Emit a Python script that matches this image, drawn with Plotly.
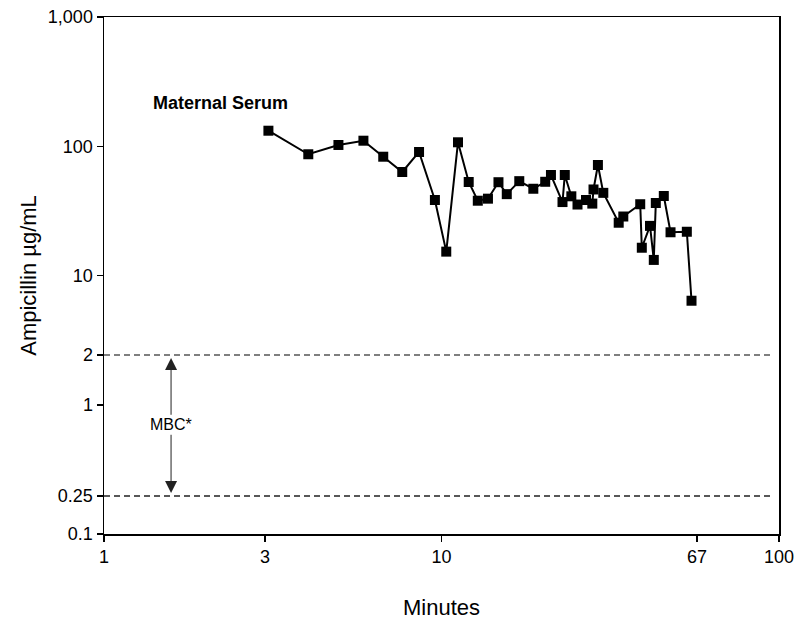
import math
import plotly.graph_objects as go

# Data (minutes, ampicillin ug/mL)
minutes = [3.07, 4.03, 4.95, 5.87, 6.72, 7.65, 8.58, 9.56, 10.33, 11.19,
           12.04, 12.81, 13.73, 14.75, 15.61, 17.00, 18.71, 20.29, 21.10, 22.83,
           23.19, 24.25, 25.29, 26.80, 27.98, 28.21, 29.07, 30.16, 33.50, 34.57,
           38.80, 39.22, 41.48, 42.56, 43.15, 45.57, 47.71, 53.32, 55.05]
serum = [131.9, 86.7, 102.3, 110.4, 83.0, 63.2, 90.3, 38.4, 15.3, 107.3,
         52.9, 37.9, 39.3, 52.7, 42.6, 53.7, 46.9, 53.1, 59.9, 37.0,
         59.9, 41.0, 35.4, 38.4, 36.0, 46.3, 71.6, 43.6, 25.6, 28.6,
         35.6, 16.4, 24.2, 13.2, 36.4, 41.2, 21.6, 21.8, 6.38]

# Axis ticks as drawn in the reference (position on the axis, label)
x_tick_pos = [1, 3, 10, 57.2, 100]
x_tick_text = ["1", "3", "10", "67", "100"]
y_tick_pos = [0.1, 0.197, 1, 2.43, 10, 100, 1000]
y_tick_text = ["0.1", "0.25", "1", "2", "10", "100", "1,000"]

# MBC band limits (drawn at the "2" and "0.25" tick positions)
mbc_upper = 2.43
mbc_lower = 0.197
mbc_x = 1.58
mbc_label_y = 0.70

label_x = 1.38
label_y = 216

FONT = "Liberation Sans, Arial, Helvetica, sans-serif"
L = math.log10  # annotations on log axes are positioned in log10 units

fig = go.Figure()

fig.add_trace(go.Scatter(
    x=minutes, y=serum, mode="lines+markers",
    line=dict(color="black", width=2),
    marker=dict(symbol="square", size=10, color="black"),
    showlegend=False,
))

# Dashed MBC lines
for yv, col in [(mbc_upper, "#555555"), (mbc_lower, "#222222")]:
    fig.add_trace(go.Scatter(
        x=[1, 96.5], y=[yv, yv], mode="lines",
        line=dict(color=col, width=1.5, dash="6px,4px"),
        showlegend=False, hoverinfo="skip",
    ))

# MBC double arrow with label
fig.add_annotation(x=L(mbc_x), y=L(mbc_upper), ax=L(mbc_x), ay=L(mbc_label_y),
                   xref="x", yref="y", axref="x", ayref="y",
                   text="MBC*", showarrow=True, arrowhead=2, arrowsize=2.4,
                   arrowwidth=1, arrowcolor="#222222", standoff=3,
                   font=dict(family=FONT, size=16, color="black"))
fig.add_annotation(x=L(mbc_x), y=L(mbc_lower), ax=L(mbc_x), ay=L(mbc_label_y),
                   xref="x", yref="y", axref="x", ayref="y",
                   text="MBC*", showarrow=True, arrowhead=2, arrowsize=2.4,
                   arrowwidth=1, arrowcolor="#222222", standoff=3,
                   font=dict(family=FONT, size=16, color="rgba(0,0,0,0)"))

fig.add_annotation(x=L(label_x), y=L(label_y), xref="x", yref="y",
                   text="<b>Maternal Serum</b>", showarrow=False,
                   xanchor="left", yanchor="middle",
                   font=dict(family=FONT, size=18, color="black"))

fig.update_xaxes(
    type="log", range=[0, 2], automargin=False, ticklabeloverflow="allow",
    tickvals=x_tick_pos, ticktext=x_tick_text,
    ticks="outside", ticklen=6, tickwidth=1.5, tickcolor="black",
    showline=True, linecolor="black", linewidth=1.5, mirror=True,
    showgrid=False, zeroline=False,
    tickfont=dict(family=FONT, size=18, color="black"),
    title=dict(text="Minutes", font=dict(family=FONT, size=22, color="black"),
               standoff=33),
)
fig.update_yaxes(
    type="log", range=[-1, 3], automargin=False, ticklabeloverflow="allow",
    tickvals=y_tick_pos, ticktext=y_tick_text,
    ticks="outside", ticklen=6, tickwidth=1.5, tickcolor="black",
    showline=True, linecolor="black", linewidth=1.5, mirror=True,
    showgrid=False, zeroline=False,
    tickfont=dict(family=FONT, size=18, color="black"),
    title=dict(text="Ampicillin µg/mL", font=dict(family=FONT, size=22, color="black"),
               standoff=5),
)

fig.update_layout(
    width=798, height=624,
    margin=dict(l=104, r=19, t=17, b=90),
    plot_bgcolor="white", paper_bgcolor="white",
    showlegend=False,
)

# remove the browser's default body margin so the figure fills the window
fig.write_html("out.html",
               config={"displayModeBar": False, "staticPlot": True},
               post_script="document.body.style.margin='0';document.body.style.overflow='hidden';")
